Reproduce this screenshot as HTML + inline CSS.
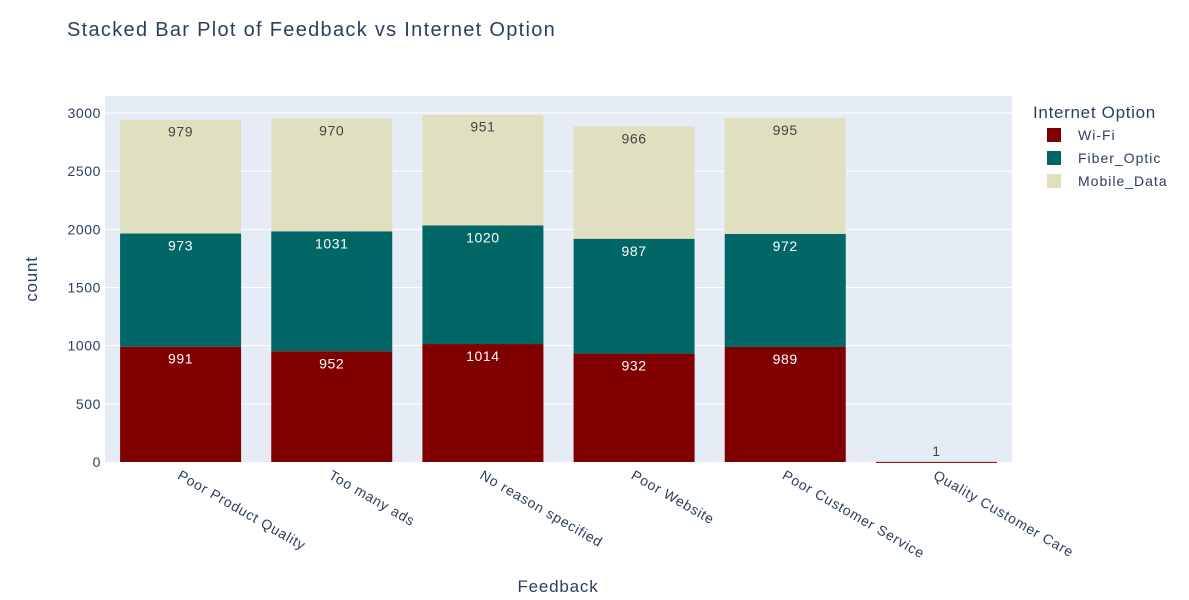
<!DOCTYPE html>
<html><head><meta charset="utf-8"><style>
body{margin:0;background:#fff;font-family:"Liberation Sans",Arial,sans-serif}
svg text{font-family:"Liberation Sans",Arial,sans-serif}
</style></head><body>
<svg id="c" width="1189" height="595">
<text x="67" y="36" font-size="20" letter-spacing="1.3" fill="#2a3f5f">Stacked Bar Plot of Feedback vs Internet Option</text>
<rect x="105" y="96" width="907" height="366" fill="#e5ecf6"/>
<g id="grid"></g><g id="bars"></g><g id="ticks"></g>
<text transform="translate(37,279) rotate(-90)" text-anchor="middle" font-size="17" letter-spacing="0.8" fill="#2a3f5f">count</text>
<text x="558" y="592" text-anchor="middle" font-size="17" letter-spacing="0.8" fill="#2a3f5f">Feedback</text>
<g id="legend">
<text x="1033" y="118" font-size="17" letter-spacing="0.7" fill="#2a3f5f">Internet Option</text>
</g>
</svg>
<script>
const categories=["Poor Product Quality","Too many ads","No reason specified","Poor Website","Poor Customer Service","Quality Customer Care"];
const seriesNames=["Wi-Fi","Fiber_Optic","Mobile_Data"];
const wifi=[991,952,1014,932,989,1];
const fiber=[973,1031,1020,987,972,0];
const mobile=[979,970,951,966,995,0];
const yTicks=[0,500,1000,1500,2000,2500,3000];
const colors=["#800000","#006666","#e0e0c0"];
const NS="http://www.w3.org/2000/svg";
const x0=105,pw=907,yBase=462,k=349/3000;
const y=v=>yBase-v*k;
const band=pw/categories.length,bw=121;
function mk(t,a,p){const e=document.createElementNS(NS,t);for(const n in a)e.setAttribute(n,a[n]);p.appendChild(e);return e;}
const grid=document.getElementById('grid'),bars=document.getElementById('bars'),ticks=document.getElementById('ticks'),legend=document.getElementById('legend');
yTicks.forEach(t=>{
 if(t>0){const l=mk('line',{x1:x0,x2:x0+pw,y1:y(t),y2:y(t),stroke:'#fff','stroke-width':1},grid);
 
 }
 const tx=mk('text',{x:101,y:y(t)+5,'text-anchor':'end','font-size':14,'letter-spacing':0.6,fill:'#2a3f5f'},ticks);tx.textContent=t;
 
 
});
const series=[wifi,fiber,mobile];
categories.forEach((c,i)=>{
 const cx=x0+band*(i+0.5);let base=0;
 series.forEach((s,j)=>{
  const v=s[i];if(!v)return;
  const top=base+v;
  const r=mk('rect',{x:cx-bw/2,y:y(top),width:bw,height:Math.max(y(base)-y(top),1),fill:colors[j]},bars);
  
  
  const inside=(y(base)-y(top))>20;
  const lt=mk('text',{x:cx,y:inside?y(top)+17:y(top)-6,'text-anchor':'middle','font-size':14,'letter-spacing':0.6,fill:(j<2&&inside)?'#fff':'#444'},bars);
  lt.textContent=v;
  
  
  base=top;
 });
 const xt=mk('text',{transform:`translate(${cx-4},${478}) rotate(30)`,'font-size':14,'letter-spacing':0.8,fill:'#2a3f5f'},ticks);
 xt.textContent=c;
 
 
});
seriesNames.forEach((n,j)=>{
 const yy=135+j*23;
 const r=mk('rect',{x:1047,y:yy-7,width:14,height:14,fill:colors[j]},legend);
 
 
 const t=mk('text',{x:1078,y:yy+5,'font-size':14,'letter-spacing':1,fill:'#2a3f5f'},legend);t.textContent=n;
 
 
});
</script>
</body></html>
